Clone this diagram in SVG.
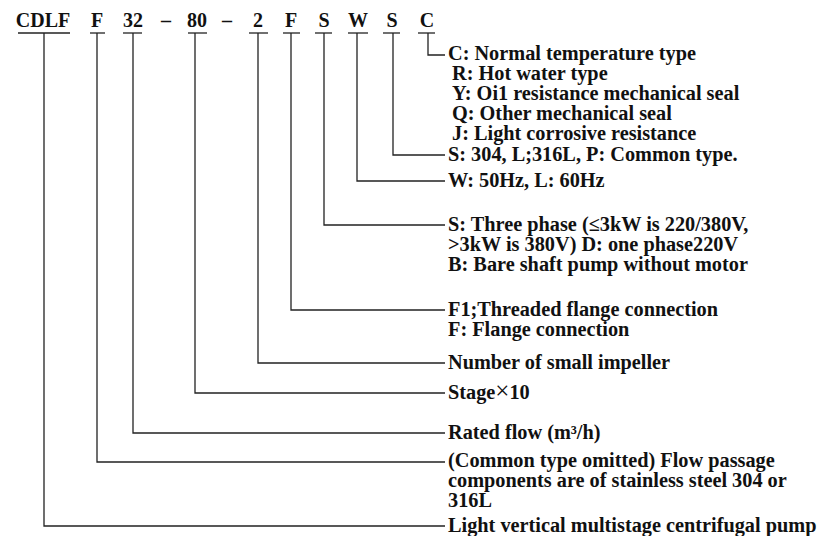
<svg xmlns="http://www.w3.org/2000/svg" width="825" height="536" viewBox="0 0 825 536">
<style>
.h{font-family:"Liberation Serif","Times New Roman",serif;font-weight:bold;font-size:20px;fill:#111;text-anchor:middle}
.t{font-family:"Liberation Serif","Times New Roman",serif;font-weight:bold;font-size:20.3px;fill:#111}
.u{stroke:#222;stroke-width:1.3;fill:none}
.c{stroke:#222;stroke-width:1.3;fill:none}
</style>
<rect width="825" height="536" fill="#fff"/>
<g id="code-cdlf"><text class="h" x="43" y="27">CDLF</text><line class="u" x1="18" y1="33" x2="70" y2="33"/></g>
<g id="code-f1"><text class="h" x="97" y="27">F</text><line class="u" x1="90" y1="33" x2="105" y2="33"/></g>
<g id="code-32"><text class="h" x="133" y="27">32</text><line class="u" x1="123" y1="33" x2="142" y2="33"/></g>
<g id="dash1"><text class="h" x="166" y="27">–</text></g>
<g id="code-80"><text class="h" x="197" y="27">80</text><line class="u" x1="188" y1="33" x2="207" y2="33"/></g>
<g id="dash2"><text class="h" x="227" y="27">–</text></g>
<g id="code-2"><text class="h" x="258" y="27">2</text><line class="u" x1="249" y1="33" x2="268" y2="33"/></g>
<g id="code-f2"><text class="h" x="291" y="27">F</text><line class="u" x1="283" y1="33" x2="300" y2="33"/></g>
<g id="code-s1"><text class="h" x="324" y="27">S</text><line class="u" x1="315" y1="33" x2="332" y2="33"/></g>
<g id="code-w"><text class="h" x="358" y="27">W</text><line class="u" x1="348" y1="33" x2="368" y2="33"/></g>
<g id="code-s2"><text class="h" x="392" y="27">S</text><line class="u" x1="383" y1="33" x2="400" y2="33"/></g>
<g id="code-c"><text class="h" x="427" y="27">C</text><line class="u" x1="418" y1="33" x2="435" y2="33"/></g>

<g id="connectors">
<polyline class="c" points="428,33 428,55 445,55"/>
<polyline class="c" points="393,33 393,155 445,155"/>
<polyline class="c" points="357,33 357,181 445,181"/>
<polyline class="c" points="324,33 324,225 445,225"/>
<polyline class="c" points="291,33 291,310 445,310"/>
<polyline class="c" points="258,33 258,363 445,363"/>
<polyline class="c" points="195,33 195,393 445,393"/>
<polyline class="c" points="133,33 133,433 445,433"/>
<polyline class="c" points="97,33 97,462 445,462"/>
<polyline class="c" points="44,33 44,526 445,526"/>
</g>

<g id="label-c">
<text class="t" x="448" y="60">C: Normal temperature type</text>
<text class="t" x="452" y="80">R: Hot water type</text>
<text class="t" x="452" y="100">Y: Oi1 resistance mechanical seal</text>
<text class="t" x="452" y="120">Q: Other mechanical seal</text>
<text class="t" x="452" y="140">J: Light corrosive resistance</text>
</g>
<g id="label-s2"><text class="t" x="448" y="161">S: 304, L;316L, P: Common type.</text></g>
<g id="label-w"><text class="t" x="448" y="187">W: 50Hz, L: 60Hz</text></g>
<g id="label-s1">
<text class="t" x="448" y="231">S: Three phase (≤3kW is 220/380V,</text>
<text class="t" x="448" y="251">&gt;3kW is 380V) D: one phase220V</text>
<text class="t" x="448" y="271">B: Bare shaft pump without motor</text>
</g>
<g id="label-f2">
<text class="t" x="448" y="316">F1;Threaded flange connection</text>
<text class="t" x="448" y="336">F: Flange connection</text>
</g>
<g id="label-2"><text class="t" x="448" y="369">Number of small impeller</text></g>
<g id="label-80"><text class="t" x="448" y="399">Stage<tspan font-size="25px" font-weight="normal">×</tspan>10</text></g>
<g id="label-32"><text class="t" x="448" y="439">Rated flow (m³/h)</text></g>
<g id="label-f1">
<text class="t" x="448" y="467">(Common type omitted) Flow passage</text>
<text class="t" x="448" y="487">components are of stainless steel 304 or</text>
<text class="t" x="448" y="507">316L</text>
</g>
<g id="label-cdlf"><text class="t" x="448" y="532">Light vertical multistage centrifugal pump</text></g>
</svg>
